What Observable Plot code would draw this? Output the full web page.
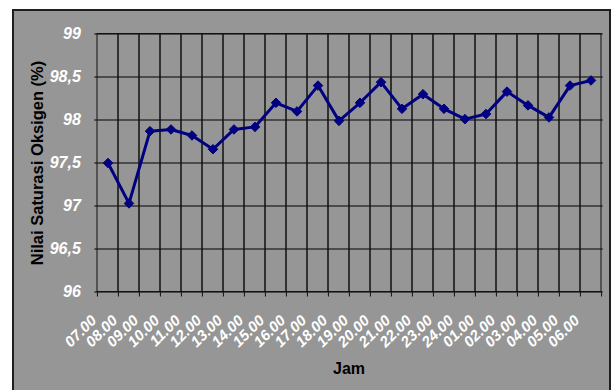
<!DOCTYPE html>
<html>
<head>
<meta charset="utf-8">
<script src="https://cdn.jsdelivr.net/npm/d3@7"></script>
<script src="https://cdn.jsdelivr.net/npm/@observablehq/plot@0.6"></script>
<style>
  html, body { margin: 0; padding: 0; background: #ffffff; }
  #wrap { position: relative; width: 614px; height: 390px; overflow: hidden; background: #ffffff; }
  #panel { position: absolute; left: 12px; top: 9px; width: 595px; height: 400px; background: #969696; border: 2px solid #1e1e1e; }
  #chart { position: absolute; left: 0; top: 0; }
  #chart svg { background: transparent !important; }
</style>
</head>
<body>
<div id="wrap"><div id="panel"></div><div id="chart"></div></div>
<script>
const hours = ["07.00","08.00","09.00","10.00","11.00","12.00","13.00","14.00","15.00","16.00","17.00","18.00",
               "19.00","20.00","21.00","22.00","23.00","24.00","01.00","02.00","03.00","04.00","05.00","06.00"];
const saturation = [97.50, 97.03, 97.87, 97.89, 97.82, 97.66, 97.89, 97.92, 98.20, 98.10, 98.40, 97.99,
                    98.20, 98.44, 98.13, 98.30, 98.13, 98.01, 98.07, 98.33, 98.17, 98.03, 98.40, 98.46];
const yTicks = [96, 96.5, 97, 97.5, 98, 98.5, 99];
const xTitle = "Jam";
const yTitle = "Nilai Saturasi Oksigen (%)";

const data = hours.map((h, i) => ({hour: h, value: saturation[i]}));

const W = 614, H = 390, mL = 94.3, mR = 11.3, mT = 33.5, mB = 98.5;
const bw = (W - mL - mR) / hours.length;
const font = "'Liberation Sans', Arial, sans-serif";
const fmt = d => String(d).replace(".", ",");
const tickLen = 5 * 3 / (H - mT - mB);

const chart = Plot.plot({
  width: W, height: H,
  marginLeft: mL, marginRight: mR, marginTop: mT, marginBottom: mB,
  style: {background: "transparent", fontFamily: font},
  x: {type: "band", domain: hours, padding: 0, axis: null},
  y: {domain: [96, 99], axis: null},
  marks: [
    Plot.ruleY(yTicks, {y: d => d, stroke: "#000", strokeWidth: 1}),
    Plot.barY(hours, {x: d => d, y1: 96, y2: 99, fill: "none", stroke: "#111", strokeWidth: 1, inset: 0}),
    Plot.ruleX(hours, {x: d => d, y1: 96, y2: 96 - tickLen, dx: -bw / 2, stroke: "#111", strokeWidth: 1}),
    Plot.ruleX([hours[hours.length - 1]], {x: d => d, y1: 96, y2: 96 - tickLen, dx: bw / 2, stroke: "#111", strokeWidth: 1}),
    Plot.text(yTicks, {y: d => d, text: fmt, frameAnchor: "left", dx: -14, textAnchor: "end",
      fill: "white", fontFamily: font, fontSize: 16, fontWeight: "bold", fontStyle: "italic"}),
    Plot.text(hours, {x: d => d, y: 96, text: d => d, rotate: -45, textAnchor: "end", dx: -14, dy: 26,
      fill: "white", fontFamily: font, fontSize: 15, fontWeight: "bold", fontStyle: "italic"}),
    Plot.text([yTitle], {frameAnchor: "left", dx: -57, rotate: -90, textAnchor: "middle", text: d => d,
      fill: "black", fontFamily: font, fontSize: 16.5, fontWeight: "bold"}),
    Plot.text([xTitle], {frameAnchor: "bottom", dy: 82, textAnchor: "middle", text: d => d,
      fill: "black", fontFamily: font, fontSize: 16, fontWeight: "bold"}),
    Plot.line(data, {x: "hour", y: "value", stroke: "#000080", strokeWidth: 3}),
    Plot.dot(data, {x: "hour", y: "value", symbol: "diamond2", r: 4.3, fill: "#000080", stroke: "#000080", strokeWidth: 1})
  ]
});
document.getElementById("chart").appendChild(chart);
</script>
</body>
</html>
